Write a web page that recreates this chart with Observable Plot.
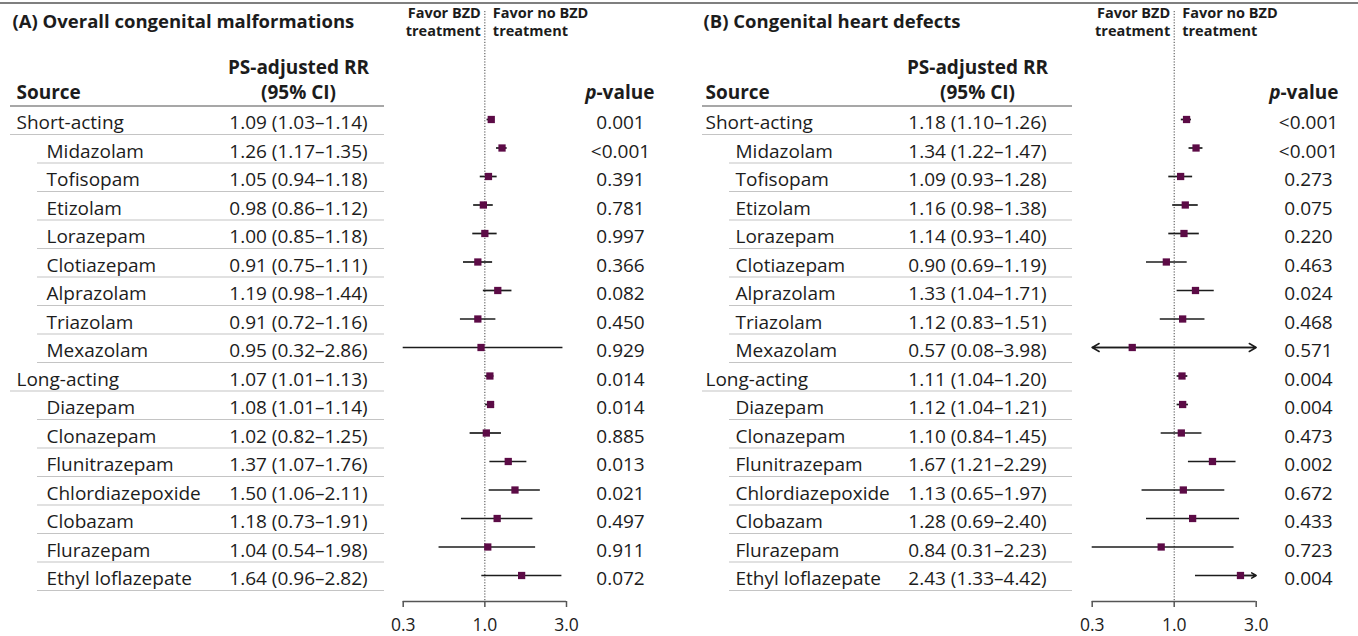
<!DOCTYPE html>
<html><head><meta charset="utf-8">
<script src="https://cdn.jsdelivr.net/npm/d3@7"></script>
<script src="https://cdn.jsdelivr.net/npm/@observablehq/plot@0.6"></script>
<style>
body{margin:0;background:#fff;}
#root{position:relative;width:1358px;height:636px;overflow:hidden;font-family:"Open Sans",Lato,sans-serif;background:#fff;}
#topline{position:absolute;left:0;top:2px;width:1358px;height:0;border-top:2px solid #7f7f7f;}
#root svg{position:absolute;top:0;}
</style></head><body><div id="root"><div id="topline"></div></div>
<script>
// ---- data ----
const sources = ["Short-acting","Midazolam","Tofisopam","Etizolam","Lorazepam","Clotiazepam","Alprazolam","Triazolam","Mexazolam",
  "Long-acting","Diazepam","Clonazepam","Flunitrazepam","Chlordiazepoxide","Clobazam","Flurazepam","Ethyl loflazepate"];
const isGroup = [true,false,false,false,false,false,false,false,false,true,false,false,false,false,false,false,false];

const rrA = [1.09,1.26,1.05,0.98,1.00,0.91,1.19,0.91,0.95,1.07,1.08,1.02,1.37,1.50,1.18,1.04,1.64];
const loA = [1.03,1.17,0.94,0.86,0.85,0.75,0.98,0.72,0.32,1.01,1.01,0.82,1.07,1.06,0.73,0.54,0.96];
const hiA = [1.14,1.35,1.18,1.12,1.18,1.11,1.44,1.16,2.86,1.13,1.14,1.25,1.76,2.11,1.91,1.98,2.82];
const pA  = ["0.001","<0.001","0.391","0.781","0.997","0.366","0.082","0.450","0.929","0.014","0.014","0.885","0.013","0.021","0.497","0.911","0.072"];

const rrB = [1.18,1.34,1.09,1.16,1.14,0.90,1.33,1.12,0.57,1.11,1.12,1.10,1.67,1.13,1.28,0.84,2.43];
const loB = [1.10,1.22,0.93,0.98,0.93,0.69,1.04,0.83,0.08,1.04,1.04,0.84,1.21,0.65,0.69,0.31,1.33];
const hiB = [1.26,1.47,1.28,1.38,1.40,1.19,1.71,1.51,3.98,1.20,1.21,1.45,2.29,1.97,2.40,2.23,4.42];
const pB  = ["<0.001","<0.001","0.273","0.075","0.220","0.463","0.024","0.468","0.571","0.004","0.004","0.473","0.002","0.672","0.433","0.723","0.004"];

const titles = ["(A) Overall congenital malformations","(B) Congenital heart defects"];
const tickValues = [1/3, 1, 3];
const tickLabels = ["0.3","1.0","3.0"];
const arrowLow = 0.3, arrowHigh = 3.0;

// ---- layout ----
const H = 636;
const headerKeys = ["_t","_f","_h1","_h2"];
const yDomain = [...headerKeys, ...sources, "_axis"];
const yScale = {type:"point", domain:yDomain, range:[8, 606.5], padding:0, round:false, axis:null};
const ink = "#1c1c1c";
const FS = 19;
const baseStyle = {fontFamily:"'Open Sans', Lato, sans-serif", fontSize:FS+"px", color:ink, background:"none", overflow:"visible"};
const fmt = v => v.toFixed(2);

function panel(title, rr, lo, hi, p, L) {
  const rows = sources.map((s,i)=>({key:s, label:s, group:isGroup[i], rr:rr[i], lo:lo[i], hi:hi[i], p:p[i],
    ci:`${fmt(rr[i])} (${fmt(lo[i])}–${fmt(hi[i])})`}));
  const root = document.getElementById("root");

  // table
  const table = Plot.plot({
    width:L.tw, height:H, marginLeft:L.tml, marginRight:0, marginTop:0, marginBottom:0,
    x:{type:"point", domain:["source","rr"], range:[L.srcX, L.rrX], padding:0, round:false, axis:null},
    y:yScale, style:baseStyle,
    marks:[
      Plot.ruleY(["_h2"], {stroke:"#8a8a8a", strokeWidth:1.5, dy:12}),
      Plot.ruleY(rows.filter(r=>r.group), {y:"key", stroke:"#c4c4c4", strokeWidth:1.2, dy:12}),
      Plot.ruleY(rows.filter(r=>!r.group), {y:"key", stroke:"#c4c4c4", strokeWidth:1.2, dy:12, insetLeft:27}),
      Plot.text([title], {x:()=>"source", y:()=>"_t", text:d=>d, textAnchor:"start", lineAnchor:"bottom", dx:L.titleDx, dy:19, fontWeight:"bold", fontSize:18.5}),
      Plot.text(["PS-adjusted RR"], {x:()=>"rr", y:()=>"_h1", text:d=>d, lineAnchor:"bottom", dy:8, fontWeight:"bold"}),
      Plot.text(["(95% CI)"], {x:()=>"rr", y:()=>"_h2", text:d=>d, lineAnchor:"bottom", dy:5, fontWeight:"bold"}),
      Plot.text(["Source"], {x:()=>"source", y:()=>"_h2", text:d=>d, textAnchor:"start", lineAnchor:"bottom", dy:5, fontWeight:"bold"}),
      Plot.text(rows.filter(r=>r.group), {x:()=>"source", y:"key", text:"label", textAnchor:"start", lineAnchor:"bottom", dy:6.5}),
      Plot.text(rows.filter(r=>!r.group), {x:()=>"source", y:"key", text:"label", textAnchor:"start", lineAnchor:"bottom", dy:6.5, dx:30}),
      Plot.text(rows, {x:()=>"rr", y:"key", text:"ci", lineAnchor:"bottom", dy:6.5})
    ]
  });
  table.style.left = L.tx + "px";
  root.appendChild(table);

  // forest
  const forest = Plot.plot({
    width:L.fw, height:H, marginLeft:L.fml, marginRight:L.fmr, marginTop:11, marginBottom:35,
    x:{type:"log", domain:[tickValues[0], tickValues[tickValues.length-1]], clamp:true, axis:null},
    y:yScale, style:baseStyle,
    marks:[
      Plot.ruleX([1], {stroke:"#444", strokeWidth:1, strokeDasharray:"1.2,1.6"}),
      Plot.ruleY(["_axis"], {dy:-5.5, stroke:"#555", strokeWidth:1.5}),
      Plot.axisX({ticks:tickValues, tickFormat:d=>tickLabels[tickValues.indexOf(d)], tickSize:6, tickPadding:11, stroke:"#555", strokeWidth:1.5, fontSize:17.5}),
      Plot.ruleY(rows, {y:"key", x1:"lo", x2:"hi", dy:-3, stroke:ink, strokeWidth:1.7}),
      Plot.arrow(rows.filter(r=>r.lo<arrowLow), {x1:"rr", x2:"lo", y1:"key", y2:"key", dy:-3, stroke:ink, strokeWidth:1.5, headLength:8, headAngle:60}),
      Plot.arrow(rows.filter(r=>r.hi>arrowHigh), {x1:"rr", x2:"hi", y1:"key", y2:"key", dy:-3, stroke:ink, strokeWidth:1.5, headLength:8, headAngle:60}),
      Plot.dot(rows, {x:"rr", y:"key", symbol:"square", r:4.1, fill:"#5c0b46", stroke:"none", dy:-3}),
      Plot.text(["Favor BZD\ntreatment"], {x:()=>1, y:()=>"_f", text:d=>d, textAnchor:"end", lineAnchor:"bottom", dx:-4, dy:-1, fontWeight:"bold", fontSize:14.5, lineHeight:1.25}),
      Plot.text(["Favor no BZD\ntreatment"], {x:()=>1, y:()=>"_f", text:d=>d, textAnchor:"start", lineAnchor:"bottom", dx:8, dy:-1, fontWeight:"bold", fontSize:14.5, lineHeight:1.25})
    ]
  });
  forest.style.left = L.fx + "px";
  root.appendChild(forest);

  // p-values
  const pv = Plot.plot({
    width:L.pw, height:H, margin:0,
    y:yScale, style:baseStyle,
    marks:[
      Plot.text(["p"], {y:()=>"_h2", text:d=>d, textAnchor:"end", lineAnchor:"bottom", dy:5, dx:L.pSplit, fontWeight:"bold", fontStyle:"italic"}),
      Plot.text(["-value"], {y:()=>"_h2", text:d=>d, textAnchor:"start", lineAnchor:"bottom", dy:5, dx:L.pSplit, fontWeight:"bold"}),
      Plot.text(rows, {y:"key", text:"p", lineAnchor:"bottom", dy:6.5})
    ]
  });
  pv.style.left = L.px + "px";
  root.appendChild(pv);
}

panel(titles[0], rrA, loA, hiA, pA, {tx:0, tw:384, tml:10, srcX:16, rrX:298, titleDx:-4,
  fx:384, fw:206, fml:18.7, fmr:24, px:590, pw:60, pSplit:-24});
panel(titles[1], rrB, loB, hiB, pB, {tx:690, tw:382, tml:12, srcX:15, rrX:287, titleDx:-2,
  fx:1072, fw:206, fml:19.7, fmr:22.3, px:1278, pw:60, pSplit:-28});
</script></body></html>
